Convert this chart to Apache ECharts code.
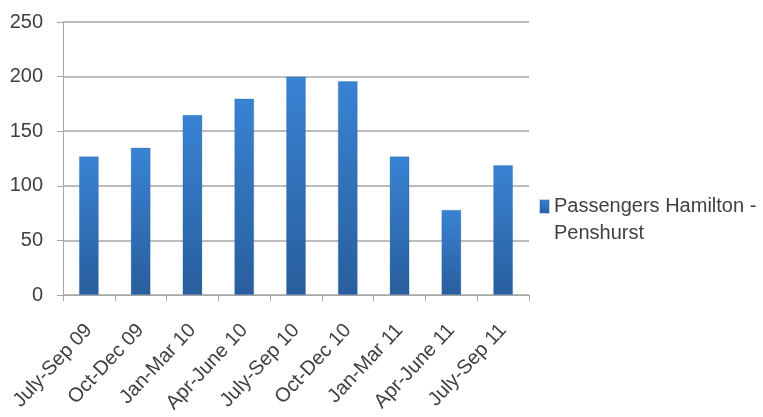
<!DOCTYPE html>
<html>
<head>
<meta charset="utf-8">
<script src="https://cdn.jsdelivr.net/npm/echarts@6/dist/echarts.min.js"></script>
<style>
  html, body { margin: 0; padding: 0; background: #fff; }
  #chart { width: 763px; height: 417px; }
</style>
</head>
<body>
<div id="chart"></div>
<script>
// Quarterly passenger counts on the Hamilton - Penshurst service
const quarters = ['July-Sep 09', 'Oct-Dec 09', 'Jan-Mar 10', 'Apr-June 10', 'July-Sep 10',
                  'Oct-Dec 10', 'Jan-Mar 11', 'Apr-June 11', 'July-Sep 11'];
const passengers = [127, 135, 165, 180, 200, 196, 127, 78, 119];
const seriesName = 'Passengers Hamilton -\nPenshurst';
const yTicks = { min: 0, max: 250, interval: 50 };

const FONT = 'Liberation Sans';
const TEXT = '#404040';
const LINE = '#a6a6a6';

const chart = echarts.init(document.getElementById('chart'), null, { renderer: 'canvas' });
chart.setOption({
  animation: false,
  backgroundColor: '#ffffff',
  textStyle: { fontFamily: FONT },
  grid: { left: 63, right: 234, top: 22, bottom: 122 },
  legend: {
    left: 534,
    top: 161,
    itemWidth: 9,
    itemHeight: 13,
    icon: 'rect',
    selectedMode: false,
    // leading blank line keeps the swatch level with the first text line
    formatter: name => '\n' + name,
    textStyle: { fontFamily: FONT, fontSize: 20, color: TEXT, lineHeight: 27 },
    data: [seriesName]
  },
  xAxis: {
    type: 'category',
    data: quarters,
    axisLine: { lineStyle: { color: LINE, width: 1 } },
    axisTick: { show: true, length: 6, lineStyle: { color: LINE } },
    axisLabel: {
      rotate: 47, interval: 0, margin: 32,
      fontFamily: FONT, fontSize: 20, color: TEXT
    }
  },
  yAxis: {
    type: 'value',
    min: yTicks.min, max: yTicks.max, interval: yTicks.interval,
    axisLine: { show: true, lineStyle: { color: LINE, width: 1 } },
    axisTick: { show: true, length: 6, lineStyle: { color: LINE } },
    splitLine: { lineStyle: { color: LINE, width: 1.5 } },
    axisLabel: { margin: 20, fontFamily: FONT, fontSize: 20, color: TEXT }
  },
  series: [{
    name: seriesName,
    type: 'bar',
    data: passengers,
    barWidth: 20,
    itemStyle: {
      color: new echarts.graphic.LinearGradient(0, 0, 0, 1, [
        { offset: 0, color: '#3983d3' },
        { offset: 1, color: '#285e9d' }
      ]),
      borderColor: 'rgba(40,90,150,0.25)',
      borderWidth: 1
    }
  }]
});
</script>
</body>
</html>
